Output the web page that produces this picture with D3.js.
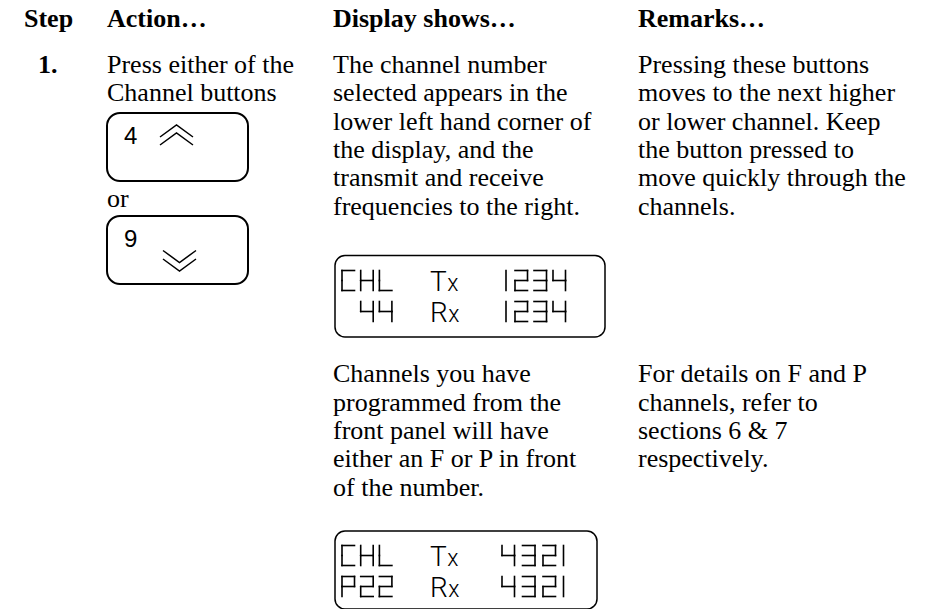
<!DOCTYPE html>
<html>
<head>
<meta charset="utf-8">
<script src="https://cdn.jsdelivr.net/npm/d3@7/dist/d3.min.js"></script>
<style>
  html, body { margin: 0; padding: 0; background: #fff; }
  svg { display: block; }
</style>
</head>
<body>
<svg id="chart" width="934" height="609"></svg>
<script>
// ---------- content ----------
const headers = ["Step", "Action…", "Display shows…", "Remarks…"];
const stepLabels = ["1."];
const actionLines = ["Press either of the", "Channel buttons"];
const orLabel = "or";
const buttonKeys = ["4", "9"];
const buttonDirs = ["up", "down"];
const displayText1 = [
  "The channel number",
  "selected appears in the",
  "lower left hand corner of",
  "the display, and the",
  "transmit and receive",
  "frequencies to the right."
];
const displayText2 = [
  "Channels you have",
  "programmed from the",
  "front panel will have",
  "either an F or P in front",
  "of the number."
];
const remarkText1 = [
  "Pressing these buttons",
  "moves to the next higher",
  "or lower channel. Keep",
  "the button pressed to",
  "move quickly through the",
  "channels."
];
const remarkText2 = [
  "For details on F and P",
  "channels, refer to",
  "sections 6 & 7",
  "respectively."
];
const lcd1Labels = ["CHL", " 44"];
const lcd1Mid = ["Tx", "Rx"];
const lcd1Freq = ["1234", "1234"];
const lcd2Labels = ["CHL", "P22"];
const lcd2Mid = ["Tx", "Rx"];
const lcd2Freq = ["4321", "4321"];

// ---------- layout ----------
const svg = d3.select("#chart");
svg.append("rect").attr("width", 934).attr("height", 609).attr("fill", "#fff");

const SERIF = "'Liberation Serif', 'Times New Roman', Times, serif";
const SANS = "'Liberation Sans', Arial, Helvetica, sans-serif";
const THIN = "Roboto, 'Liberation Sans', Arial, sans-serif";
const FS = 26;
const LH = 28.3;

const colX = d3.scaleOrdinal().domain(headers).range([24, 107, 333, 638]);
const lineY = (base) => d3.scaleLinear().domain([0, 1]).range([base, base + LH]);

// headers
svg.append("g").selectAll("text").data(headers).join("text")
  .attr("x", d => colX(d)).attr("y", 26.7)
  .attr("font-family", SERIF).attr("font-size", FS).attr("font-weight", "bold")
  .attr("fill", "#000").text(d => d);

// step number
svg.append("g").selectAll("text").data(stepLabels).join("text")
  .attr("x", 38).attr("y", 73)
  .attr("font-family", SERIF).attr("font-size", FS).attr("font-weight", "bold")
  .attr("fill", "#000").text(d => d);

function para(lines, x, base) {
  const y = lineY(base);
  svg.append("g").selectAll("text").data(lines).join("text")
    .attr("x", x).attr("y", (d, i) => y(i))
    .attr("font-family", SERIF).attr("font-size", FS)
    .attr("fill", "#000").text(d => d);
}
para(actionLines, colX(headers[1]), 73);
para(displayText1, colX(headers[2]), 73);
para(displayText2, colX(headers[2]), 382.4);
para(remarkText1, colX(headers[3]), 73);
para(remarkText2, colX(headers[3]), 382.4);

svg.append("text").attr("x", 107).attr("y", 207)
  .attr("font-family", SERIF).attr("font-size", FS).attr("fill", "#000").text(orLabel);

// buttons
const btnY = d3.scaleOrdinal().domain(buttonKeys).range([113, 216]);
const btn = svg.append("g").selectAll("g").data(buttonKeys).join("g")
  .attr("transform", d => `translate(107,${btnY(d)})`);
btn.append("rect").attr("width", 141).attr("height", 68).attr("rx", 13)
  .attr("fill", "none").attr("stroke", "#000").attr("stroke-width", 2);
btn.append("text").attr("x", 17).attr("y", 31)
  .attr("font-family", SANS).attr("font-size", 24).attr("fill", "#000").text(d => d);
btn.each(function(d, i) {
  const g = d3.select(this);
  const dir = buttonDirs[i];
  const w = 33, h = 12;
  const x0 = dir === "up" ? 53 : 56;
  const starts = dir === "up" ? [12, 20] : [34.5, 43];
  starts.forEach(s => {
    const pts = dir === "up"
      ? [[x0, s + h], [x0 + w / 2, s], [x0 + w, s + h]]
      : [[x0, s], [x0 + w / 2, s + h], [x0 + w, s]];
    g.append("path").attr("d", d3.line()(pts))
      .attr("fill", "none").attr("stroke", "#000").attr("stroke-width", 1.5);
  });
});

// seven-segment glyphs
const SEGS = {
  "C": "afed", "H": "fegbc", "L": "fed", "P": "abfge",
  "2": "abged", "3": "abgcd", "4": "fgbc", "1": "1", " ": ""
};
function drawGlyph(g, ch, x, y, w, h) {
  const m = h / 2;
  const seg = {
    a: [[x, y], [x + w, y]],
    b: [[x + w, y], [x + w, y + m]],
    c: [[x + w, y + m], [x + w, y + h]],
    d: [[x, y + h], [x + w, y + h]],
    e: [[x, y + m], [x, y + h]],
    f: [[x, y], [x, y + m]],
    g: [[x, y + m], [x + w, y + m]],
    "1": [[x, y], [x, y + h]]
  };
  const spec = SEGS[ch] || "";
  for (const s of spec) {
    g.append("path").attr("d", d3.line()(seg[s]))
      .attr("fill", "none").attr("stroke", "#000").attr("stroke-width", 1.6)
      .attr("stroke-linecap", "square");
  }
}

function lcd(labels, mids, freqs, box, rowTop, freqX, freqPitch) {
  const g = svg.append("g")
    .attr("role", "img")
    .attr("aria-label", labels.map((l, r) => `${l} ${mids[r]} ${freqs[r]}`).join(" / "));
  g.append("title").text(labels.map((l, r) => `${l.trim()} ${mids[r]} ${freqs[r]}`).join("\n"));
  g.append("rect").attr("x", box.x).attr("y", box.y).attr("width", box.w).attr("height", box.h)
    .attr("rx", 10).attr("fill", "none").attr("stroke", "#000").attr("stroke-width", 1.5);
  const rowY = d3.scaleLinear().domain([0, 1]).range([rowTop, rowTop + 31]);
  const GW = 12.5, GH = 20;
  const xs = d3.scaleLinear().domain([0, 1]).range([342, 360.7]);
  labels.forEach((s, r) => {
    [...s].forEach((ch, k) => drawGlyph(g, ch, xs(k), rowY(r), GW, GH));
  });
  mids.forEach((s, r) => {
    const t = g.append("text").attr("x", 430).attr("y", rowY(r) + GH)
      .attr("font-family", THIN).attr("font-weight", 300).attr("fill", "#000");
    t.append("tspan").attr("font-size", 28).text(s[0]);
    t.append("tspan").attr("font-size", 23).attr("dx", 0.5).text(s.slice(1));
  });
  freqs.forEach((s, r) => {
    let x = freqX;
    [...s].forEach(ch => {
      drawGlyph(g, ch, x, rowY(r), GW, GH);
      x += ch === "1" ? 9 : freqPitch;
    });
  });
}
lcd(lcd1Labels, lcd1Mid, lcd1Freq, {x: 335, y: 255.5, w: 270, h: 81.5}, 270.5, 506, 19);
lcd(lcd2Labels, lcd2Mid, lcd2Freq, {x: 335, y: 531, w: 262, h: 78}, 545.5, 502, 20.5);
</script>
</body>
</html>
